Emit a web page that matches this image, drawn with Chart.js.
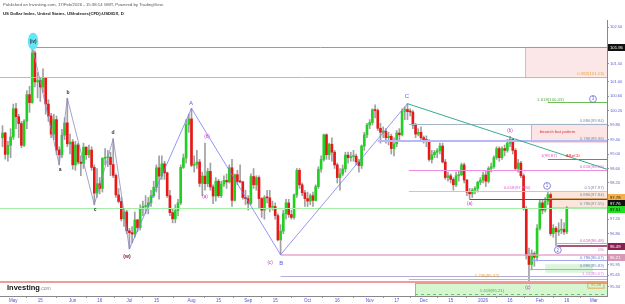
<!DOCTYPE html>
<html>
<head>
<meta charset="utf-8">
<script src="https://cdn.jsdelivr.net/npm/chart.js@4.4.1/dist/chart.umd.min.js"></script>
<style>
  html, body { margin: 0; padding: 0; background: #fff; }
  canvas { display: block; }
</style>
</head>
<body>
<canvas id="chart" width="625" height="304"></canvas>
<script>
// US Dollar Index daily candles, 25 Apr 2025 .. 16 Feb 2026 (bar index = trading day)
const opens = [
  99.45, 99.58, 98.99, 99.24, 99.47, 100.25, 100.03, 99.84, 99.24, 99.91,
  100.64, 100.42, 101.79, 100.99, 101.03, 100.85, 101.09, 100.38, 100.05, 99.55,
  99.95, 99.11, 98.98, 99.52, 99.86, 99.28, 99.33, 98.70, 99.25, 98.78,
  98.74, 99.19, 98.98, 99.11, 98.63, 97.92, 98.18, 98.05, 98.88, 98.90,
  98.91, 98.71, 98.41, 97.87, 97.69, 97.21, 97.40, 96.88, 96.83, 96.79,
  97.18, 96.97, 97.48, 97.55, 97.56, 97.65, 97.85, 98.08, 98.62, 98.39,
  98.73, 98.48, 97.85, 97.38, 97.21, 97.44, 97.65, 98.63, 98.89, 99.81,
  99.97, 98.69, 98.72, 98.78, 98.19, 98.39, 98.18, 98.52, 98.09, 97.84,
  98.25, 97.85, 98.17, 98.27, 98.23, 98.62, 97.72, 98.43, 98.24, 98.23,
  97.80, 97.77, 97.64, 98.38, 98.15, 98.35, 97.77, 97.45, 97.80, 97.79,
  97.53, 97.55, 97.30, 96.63, 96.87, 97.35, 97.65, 97.33, 97.25, 97.87,
  98.55, 98.15, 97.93, 97.77, 97.70, 97.85, 97.72, 98.10, 98.58, 98.85,
  99.53, 98.98, 99.27, 99.05, 98.70, 98.35, 98.45, 98.59, 98.97, 98.90,
  98.93, 98.94, 98.78, 98.68, 99.22, 99.53, 99.80, 99.87, 100.22, 100.20,
  99.71, 99.60, 99.63, 99.45, 99.49, 99.15, 99.28, 99.58, 99.53, 100.18,
  100.23, 100.17, 100.16, 99.80, 99.55, 99.60, 99.45, 99.40, 99.35, 98.85,
  98.98, 99.05, 99.09, 99.22, 98.78, 98.35, 98.40, 98.30, 98.15, 98.40,
  98.43, 98.70, 98.28, 97.95, 97.90, 98.00, 98.05, 98.22, 98.28, 98.42,
  98.25, 98.60, 98.65, 98.90, 99.15, 98.90, 99.15, 99.10, 99.30, 99.40,
  99.10, 98.60, 98.75, 98.40, 97.50, 96.20, 95.95, 96.25, 96.15, 96.95,
  97.65, 97.45, 97.70, 97.88, 96.80, 96.95, 96.85, 96.90, 96.92, 96.85
];
const highs = [
  99.78, 99.60, 99.35, 99.70, 100.38, 100.40, 100.10, 99.90, 99.95, 100.75,
  100.87, 101.98, 101.85, 101.25, 101.10, 101.35, 101.10, 100.50, 100.12, 100.10,
  100.05, 99.20, 99.68, 100.00, 100.54, 99.55, 99.40, 99.35, 99.30, 98.95,
  99.30, 99.20, 99.25, 99.20, 98.70, 98.60, 98.35, 98.90, 99.15, 99.10,
  99.05, 99.42, 98.45, 98.05, 97.80, 97.50, 97.45, 96.95, 97.00, 97.40,
  97.20, 97.60, 97.70, 97.85, 97.80, 98.00, 98.25, 98.70, 98.95, 98.95,
  98.80, 98.50, 98.00, 97.50, 97.60, 97.75, 98.70, 99.00, 99.95, 100.10,
  100.26, 98.95, 99.10, 98.85, 98.50, 99.30, 98.60, 98.75, 98.15, 98.35,
  98.30, 98.25, 98.40, 98.45, 98.70, 98.85, 98.45, 98.55, 98.70, 98.25,
  98.00, 97.85, 98.45, 98.60, 98.40, 98.40, 97.80, 97.85, 98.00, 98.00,
  97.70, 97.65, 97.35, 97.05, 97.45, 97.75, 97.75, 97.45, 97.90, 98.60,
  98.60, 98.20, 98.00, 97.95, 97.90, 97.95, 98.15, 98.65, 98.95, 99.55,
  99.56, 99.30, 99.45, 99.10, 98.75, 98.60, 98.70, 99.05, 99.05, 99.05,
  99.10, 99.00, 98.85, 99.25, 99.60, 99.85, 99.95, 100.25, 100.36, 100.25,
  99.85, 99.75, 99.70, 99.60, 99.55, 99.45, 99.65, 99.70, 100.25, 100.30,
  100.39, 100.25, 100.20, 99.85, 99.70, 99.75, 99.50, 99.50, 99.40, 99.10,
  99.10, 99.15, 99.30, 99.30, 98.85, 98.50, 98.45, 98.35, 98.50, 98.55,
  98.75, 98.75, 98.30, 98.05, 98.05, 98.10, 98.25, 98.35, 98.50, 98.55,
  98.65, 98.75, 98.95, 99.20, 99.20, 99.20, 99.25, 99.40, 99.49, 99.42,
  99.15, 98.85, 98.80, 98.45, 97.55, 96.40, 96.35, 96.30, 97.05, 97.75,
  97.75, 97.80, 97.98, 97.92, 97.05, 97.00, 97.10, 97.20, 97.10, 97.55
];
const lows = [
  99.20, 98.86, 98.80, 98.90, 99.40, 99.70, 99.45, 99.17, 99.20, 99.70,
  100.15, 100.40, 100.85, 100.55, 100.45, 100.70, 100.10, 99.90, 99.45, 99.40,
  98.98, 98.70, 98.90, 99.40, 99.20, 99.00, 98.58, 98.55, 98.72, 98.40,
  98.60, 98.85, 98.90, 98.55, 97.60, 97.80, 97.90, 97.95, 98.70, 98.65,
  98.40, 98.35, 97.80, 97.65, 97.15, 97.00, 96.80, 96.38, 96.55, 96.70,
  96.85, 96.90, 97.30, 97.35, 97.35, 97.55, 97.80, 97.95, 97.75, 98.30,
  98.30, 97.80, 97.30, 97.10, 97.10, 97.30, 97.60, 98.60, 98.75, 99.60,
  98.65, 98.50, 98.60, 98.10, 97.85, 98.00, 98.10, 98.00, 97.63, 97.70,
  97.80, 97.80, 98.10, 98.05, 98.20, 97.55, 97.70, 98.15, 98.20, 97.75,
  97.60, 97.45, 97.60, 98.05, 98.00, 97.50, 97.25, 97.20, 97.65, 97.40,
  97.45, 97.20, 96.60, 96.22, 96.80, 97.20, 97.25, 97.20, 97.20, 97.80,
  98.05, 97.85, 97.55, 97.55, 97.60, 97.55, 97.70, 98.05, 98.50, 98.80,
  98.85, 98.85, 98.80, 98.60, 98.20, 98.00, 98.40, 98.50, 98.75, 98.80,
  98.80, 98.70, 98.50, 98.60, 99.10, 99.45, 99.70, 99.80, 100.00, 99.65,
  99.30, 99.45, 99.30, 99.25, 99.00, 98.95, 99.20, 99.35, 99.50, 99.95,
  99.95, 100.05, 99.70, 99.45, 99.50, 99.35, 99.30, 99.20, 98.80, 98.75,
  98.90, 98.90, 99.00, 98.75, 98.30, 98.25, 98.20, 98.00, 98.10, 98.25,
  98.40, 98.20, 97.85, 97.76, 97.80, 97.90, 97.95, 98.15, 98.20, 98.10,
  98.20, 98.50, 98.60, 98.85, 98.80, 98.85, 98.95, 99.05, 99.20, 99.00,
  98.55, 98.50, 98.35, 97.45, 96.10, 95.50, 95.80, 95.90, 96.05, 96.90,
  97.35, 97.40, 97.60, 96.75, 96.70, 96.46, 96.75, 96.80, 96.78, 96.80
];
const closes = [
  99.58, 98.99, 99.24, 99.47, 100.25, 100.03, 99.84, 99.24, 99.91, 100.64,
  100.42, 101.79, 100.99, 101.03, 100.85, 101.09, 100.38, 100.05, 99.55, 99.95,
  99.11, 98.98, 99.52, 99.86, 99.28, 99.33, 98.70, 99.25, 98.78, 98.74,
  99.19, 98.98, 99.11, 98.63, 97.92, 98.18, 98.05, 98.88, 98.90, 98.91,
  98.71, 98.41, 97.87, 97.69, 97.21, 97.40, 96.88, 96.83, 96.79, 97.18,
  96.97, 97.48, 97.55, 97.56, 97.65, 97.85, 98.08, 98.62, 98.39, 98.73,
  98.48, 97.85, 97.38, 97.21, 97.44, 97.65, 98.63, 98.89, 99.81, 99.97,
  98.69, 98.72, 98.78, 98.19, 98.39, 98.18, 98.52, 98.09, 97.84, 98.25,
  97.85, 98.17, 98.27, 98.23, 98.62, 97.72, 98.43, 98.24, 98.23, 97.80,
  97.77, 97.64, 98.38, 98.15, 98.35, 97.77, 97.45, 97.80, 97.79, 97.53,
  97.55, 97.30, 96.63, 96.87, 97.35, 97.65, 97.33, 97.25, 97.87, 98.55,
  98.15, 97.93, 97.77, 97.70, 97.85, 97.72, 98.10, 98.58, 98.85, 99.53,
  98.98, 99.27, 99.05, 98.70, 98.35, 98.45, 98.59, 98.97, 98.90, 98.93,
  98.94, 98.78, 98.68, 99.22, 99.53, 99.80, 99.87, 100.22, 100.20, 99.71,
  99.60, 99.63, 99.45, 99.49, 99.15, 99.28, 99.58, 99.53, 100.18, 100.23,
  100.17, 100.16, 99.80, 99.55, 99.60, 99.45, 99.40, 99.35, 98.85, 98.98,
  99.05, 99.09, 99.22, 98.78, 98.35, 98.40, 98.30, 98.15, 98.40, 98.43,
  98.70, 98.28, 97.95, 97.90, 98.00, 98.05, 98.22, 98.28, 98.42, 98.25,
  98.60, 98.65, 98.90, 99.15, 98.90, 99.15, 99.10, 99.30, 99.40, 99.10,
  98.60, 98.75, 98.40, 97.50, 96.20, 95.95, 96.25, 96.15, 96.95, 97.65,
  97.45, 97.70, 97.88, 96.80, 96.95, 96.85, 96.90, 96.92, 96.85, 97.51
];

// axis ticks
const xTickIdx = [4, 14, 26, 36, 47, 57, 70, 80, 91, 101, 113, 124, 136, 146, 156, 166, 178, 188, 199, 209, 219];
const xTickLabels = ['May', '15', 'Jun', '16', 'Jul', '15', 'Aug', '15', 'Sep', '15', 'Oct', '16', 'Nov', '17', 'Dec', '15', '2026', '16', 'Feb', '16', 'Mar'];
const yTicks = [102.5, 101.5, 101.0, 100.6, 100.2, 99.8, 99.4, 99.0, 98.6, 98.2, 97.2, 96.8, 95.95, 95.65, 95.34];

// drawings: horizontal levels [fromBar, toBar, price, colour, width, dash]
const levels = [
  [11.3, 230, 101.96, '#9c9c9c', 1],
  [-2, 230, 101.13, '#f6b250', 1],
  [202, 230, 100.43, '#6cbc58', 1],
  [150.5, 230, 99.84, '#a4b4c8', 1],
  [139, 230, 99.36, '#b8b8f4', 2],
  [202, 230, 98.87, '#e85050', 1],
  [150.5, 230, 98.56, '#f08ce0', 1],
  [150.5, 230, 97.98, '#9cdcd6', 1],
  [202, 230, 97.78, '#d8a878', 1],
  [173, 230, 97.76, '#555555', 1],
  [-2, 230, 97.51, '#a6eea6', 1],
  [205, 230, 96.53, '#f08ce0', 1],
  [205.5, 230, 96.45, '#8b2050', 1.5],
  [103, 230, 96.21, '#e8a8cc', 1.5],
  [196, 230, 96.07, '#a0a8f0', 1],
  [195, 230, 95.83, '#a0a8f0', 1],
  [103, 230, 95.62, '#b4acd4', 1],
  [150.5, 230, 95.55, '#f4b060', 1],
  [-2, 230, 95.47, '#f07878', 1.5],
  [152.8, 230, 95.13, '#6cbc6c', 1, [3, 3]]
];
// shaded zones [fromBar, toBar, topPrice, bottomPrice, fill, border]
const zones = [
  [193.5, 230, 101.96, 101.13, 'rgba(240,160,160,0.25)', '#e8b4b4'],
  [195.7, 230, 99.84, 99.36, 'rgba(240,150,150,0.25)', '#e8aaaa'],
  [202.8, 230, 97.98, 97.54, 'rgba(245,170,130,0.3)', '#ecc4ac'],
  [201, 218.7, 95.96, 95.72, 'rgba(150,230,150,0.35)', null],
  [152.8, 230, 95.44, 94.9, 'rgba(170,240,160,0.5)', '#7cd07c']
];
// wave paths
const waveMinorBars = [11, 21, 24, 34, 41, 47];
const waveMinorPrices = [101.98, 98.70, 100.54, 97.60, 99.42, 96.38];
const waveMajorBars = [47, 70, 103, 150];
const waveMajorPrices = [96.38, 100.26, 96.22, 100.39];
const trendBars = [150, 230];
const trendPrices = [100.39, 98.43];

// text on the chart [text, bar, price, colour, size, bold]
const waveTexts = [
  ['a', 21.3, 98.56, '#333', 5, true], ['b', 24.3, 100.69, '#333', 5, true],
  ['c', 34.3, 97.46, '#333', 5, true], ['d', 40.9, 99.58, '#333', 5, true],
  ['(w)', 46.1, 96.18, '#7a1020', 5, true],
  ['A', 69.8, 100.41, '#5a5ae0', 6, false], ['B', 103.2, 95.99, '#5a5ae0', 6, false],
  ['C', 149.8, 100.58, '#5a5ae0', 6, false],
  ['(b)', 75.7, 99.47, '#c030c0', 4.5, false], ['(a)', 75, 97.82, '#c030c0', 4.5, false],
  ['(c)', 99.1, 95.99, '#c030c0', 4.5, false], ['(a)', 173.1, 97.62, '#c030c0', 4.5, false],
  ['(b)', 188, 99.64, '#c030c0', 4.5, false], ['(c)', 194.6, 95.30, '#c030c0', 4.5, false]
];
const circled = [['1', 201.7, 98.12], ['2', 205.7, 96.35], ['3', 218.7, 100.52]];
// level captions [text, bar, price, colour, align]
const levelTexts = [
  ['0.382(101.13)', 222.8, 101.13, '#f0a040', 'right'],
  ['1.618(100.43)', 198.0, 100.43, '#5aa84a', 'left'],
  ['0.886(99.84)', 222.8, 99.84, '#7a90b0', 'right'],
  ['0.786(99.36)', 222.8, 99.36, '#7a90b0', 'right'],
  ['1(98.87)', 202.4, 98.87, '#e060c0', 'center'],
  ['AB=CD', 211.3, 98.87, '#e03030', 'center'],
  ['0.618(98.56)', 222.8, 98.56, '#e060d0', 'right'],
  ['0.618(97.990)', 190.6, 97.98, '#e060d0', 'center'],
  ['0.5(97.97)', 222.8, 97.98, '#7a90b0', 'right'],
  ['0.886(97.84)', 222.8, 97.80, '#7a90b0', 'right'],
  ['0.786(97.55)', 222.8, 97.55, '#7a90b0', 'right'],
  ['0.618(96.48)', 222.8, 96.53, '#e060d0', 'right'],
  ['0.786(96.07)', 222.8, 96.07, '#7080d0', 'right'],
  ['0.886(95.83)', 222.8, 95.83, '#7080d0', 'right'],
  ['1.13(95.57)', 222.8, 95.62, '#e080e0', 'right'],
  ['1.236(95.42)', 179.4, 95.57, '#e0a040', 'center'],
  ['1.618(95.21)', 181.3, 95.15, '#5aa84a', 'center']
];
// price tags on the right axis [value text, price at which tag sits, bg, fg]
const axisTags = [
  ['101.96', 101.96, '#111111', '#ffffff'],
  ['97.78', 97.80, '#f5b04a', '#222222'],
  ['97.76', 97.64, '#111111', '#ffffff'],
  ['97.51', 97.47, '#22dd22', '#000000'],
  ['96.49', 96.45, '#8b2050', '#ffffff'],
  ['96.21', 96.15, '#d49ab8', '#ffffff']
];

const FONT = "'Liberation Sans', Arial, sans-serif";
const bars = closes.map((c, i) => i);
const wickData = bars.map(i => ({ x: i, y: [lows[i], highs[i]] }));
const bodyData = bars.map(i => ({ x: i, y: [opens[i], closes[i]] }));
const bodyColors = bars.map(i => closes[i] >= opens[i] ? '#22d022' : '#e81818');

function text(ctx, s, x, y, color, size, bold, align, base) {
  ctx.font = (bold ? 'bold ' : '') + size + 'px ' + FONT;
  ctx.fillStyle = color;
  ctx.textAlign = align || 'center';
  ctx.textBaseline = base || 'middle';
  ctx.fillText(s, x, y);
}

const drawings = {
  id: 'drawings',
  beforeDatasetsDraw(chart) {
    const { ctx, chartArea: a, scales: { x, y } } = chart;
    ctx.save();
    ctx.beginPath();
    ctx.rect(a.left, a.top, a.right - a.left, a.bottom - a.top);
    ctx.clip();
    zones.forEach(([b1, b2, p1, p2, fill, border]) => {
      const x1 = x.getPixelForValue(b1), x2 = x.getPixelForValue(b2);
      const y1 = y.getPixelForValue(p1), y2 = y.getPixelForValue(p2);
      ctx.fillStyle = fill;
      ctx.fillRect(x1, y1, x2 - x1, y2 - y1);
      if (border) {
        ctx.strokeStyle = border;
        ctx.lineWidth = 1;
        ctx.strokeRect(Math.round(x1) + 0.5, Math.round(y1) + 0.5, x2 - x1, y2 - y1);
      }
    });
    ctx.restore();
  },
  afterDatasetsDraw(chart) {
    const { ctx, chartArea: a, scales: { x, y } } = chart;
    ctx.save();
    ctx.beginPath();
    ctx.rect(a.left, a.top, a.right - a.left, a.bottom - a.top);
    ctx.clip();

    levels.forEach(([b1, b2, p, color, w, dash]) => {
      const yy = Math.round(y.getPixelForValue(p)) + (w === 1 ? 0.5 : 0);
      ctx.strokeStyle = color;
      ctx.lineWidth = w;
      ctx.setLineDash(dash || []);
      ctx.beginPath();
      ctx.moveTo(x.getPixelForValue(b1), yy);
      ctx.lineTo(x.getPixelForValue(b2), yy);
      ctx.stroke();
    });
    ctx.setLineDash([]);

    const path = (bs, ps, color, w) => {
      ctx.strokeStyle = color;
      ctx.lineWidth = w;
      ctx.beginPath();
      bs.forEach((b, k) => {
        const px = x.getPixelForValue(b), py = y.getPixelForValue(ps[k]);
        k ? ctx.lineTo(px, py) : ctx.moveTo(px, py);
      });
      ctx.stroke();
    };
    path(waveMinorBars, waveMinorPrices, '#8c8cc0', 0.8);
    path(waveMajorBars, waveMajorPrices, '#7a7af0', 0.8);
    path(trendBars, trendPrices, '#3aaa90', 1);

    // (iv) marker
    const ex = x.getPixelForValue(11.3), ey = y.getPixelForValue(102.11);
    ctx.fillStyle = '#62e6f6';
    ctx.beginPath();
    ctx.ellipse(ex, ey, 5.2, 8.5, 0, 0, Math.PI * 2);
    ctx.fill();
    text(ctx, '(iv)', ex, ey, '#333', 4.5, true);

    waveTexts.forEach(([s, b, p, color, size, bold]) =>
      text(ctx, s, x.getPixelForValue(b), y.getPixelForValue(p), color, size, bold));

    circled.forEach(([s, b, p]) => {
      const cx = x.getPixelForValue(b), cy = y.getPixelForValue(p);
      ctx.strokeStyle = '#6a6ad8';
      ctx.lineWidth = 0.8;
      ctx.beginPath();
      ctx.arc(cx, cy, 3.4, 0, Math.PI * 2);
      ctx.stroke();
      text(ctx, s, cx, cy + 0.3, '#6a6ad8', 4.5, false);
    });

    levelTexts.forEach(([s, b, p, color, align]) =>
      text(ctx, s, x.getPixelForValue(b), y.getPixelForValue(p) - 0.5, color, 4.3, false, align, 'bottom'));

    text(ctx, 'bearish bat pattern', x.getPixelForValue(205.6), y.getPixelForValue(99.60), '#e03030', 4.3, false);
    text(ctx, '0%', x.getPixelForValue(222.8), y.getPixelForValue(96.36), '#d070b0', 4, false, 'right');

    // boxed price label in the plot
    const bx1 = x.getPixelForValue(216.8), bx2 = x.getPixelForValue(222.8), by = y.getPixelForValue(95.38);
    ctx.strokeStyle = '#e89a40';
    ctx.lineWidth = 0.8;
    ctx.strokeRect(bx1, by - 3, bx2 - bx1, 6);
    text(ctx, '95.38', (bx1 + bx2) / 2, by, '#e08a30', 4, false);
    ctx.restore();
  },
  afterDraw(chart) {
    const { ctx, chartArea: a, scales: { y } } = chart;
    ctx.save();
    axisTags.forEach(([s, p, bg, fg]) => {
      const yy = y.getPixelForValue(p);
      ctx.fillStyle = bg;
      ctx.fillRect(a.right + 1, Math.round(yy) - 3, 17, 7);
      text(ctx, s, a.right + 3, Math.round(yy) + 0.5, fg, 4.2, false, 'left');
    });
    text(ctx, 'Published on Investing.com, 17/Feb/2026 - 15:38:14 GMT, Powered by TradingView.',
      3, 5, '#555', 4.3, false, 'left');
    text(ctx, 'US Dollar Index, United States, USIndexes(CFD):USDIDX, D', 3, 14, '#222', 4.3, true, 'left');
    text(ctx, 'Investing', 7, a.bottom - 8, '#111', 7.5, true, 'left');
    ctx.font = 'bold 7.5px ' + FONT;
    const w = ctx.measureText('Investing').width;
    text(ctx, '.com', 7 + w, a.bottom - 7.5, '#888', 5, false, 'left');
    ctx.restore();
  }
};

new Chart(document.getElementById('chart'), {
  type: 'bar',
  data: {
    datasets: [
      { data: wickData, backgroundColor: '#a0a0a0', barThickness: 1, grouped: false, order: 2 },
      { data: bodyData, backgroundColor: bodyColors, barThickness: 2, grouped: false, minBarLength: 1, order: 1 }
    ]
  },
  options: {
    responsive: false,
    animation: false,
    layout: { padding: { top: 20, left: 0, right: 0, bottom: 0 } },
    plugins: { legend: { display: false }, tooltip: { enabled: false } },
    scales: {
      x: {
        type: 'linear', min: -0.93, max: 223.9, offset: false,
        afterBuildTicks: s => { s.ticks = xTickIdx.map(v => ({ value: v })); },
        afterFit: s => { s.height = 8; },
        ticks: {
          color: '#5050e0', font: { size: 4.5, family: FONT }, padding: 0,
          maxRotation: 0, autoSkip: false,
          callback: v => xTickLabels[xTickIdx.indexOf(v)]
        },
        grid: { drawOnChartArea: false, tickLength: 2, color: '#999' },
        border: { color: '#888' }
      },
      y: {
        position: 'right', min: 95.08, max: 102.70,
        afterBuildTicks: s => { s.ticks = yTicks.map(v => ({ value: v })); },
        afterFit: s => { s.width = 18; },
        ticks: {
          color: '#5a5ad6', font: { size: 4, family: FONT }, padding: 1,
          autoSkip: false, callback: v => v.toFixed(2)
        },
        grid: { drawOnChartArea: false, tickLength: 2, color: '#999' },
        border: { color: '#888' }
      }
    }
  },
  plugins: [drawings]
});
</script>
</body>
</html>
